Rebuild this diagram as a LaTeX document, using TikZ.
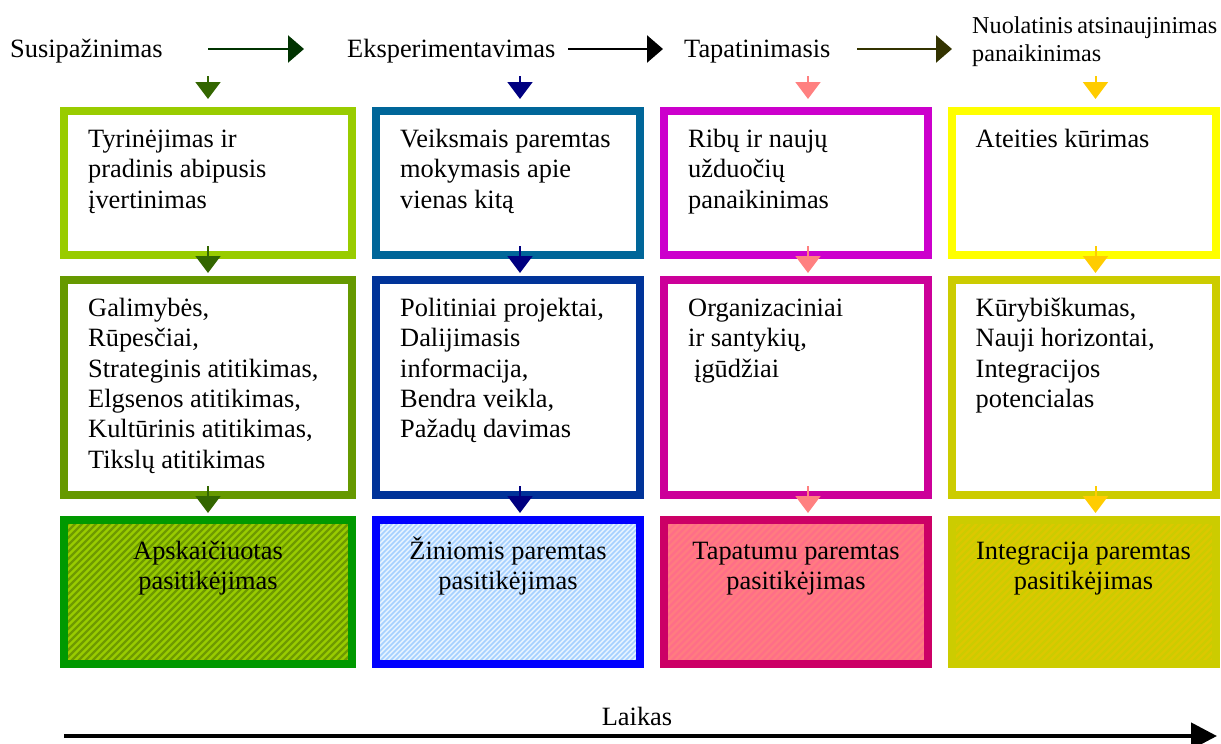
\documentclass[tikz,border=0pt]{standalone}
\usepackage{fontspec}
\setmainfont{Liberation Serif}
\usetikzlibrary{arrows.meta,calc}

% phase arrows
\definecolor{hA}{HTML}{003300}
\definecolor{hB}{HTML}{000000}
\definecolor{hC}{HTML}{333300}
% small down arrows
\definecolor{aA}{HTML}{336600}
\definecolor{aB}{HTML}{000080}
\definecolor{aC}{HTML}{FF8080}
\definecolor{aD}{HTML}{FFCC00}
% first row borders
\definecolor{oA}{HTML}{99CC00}
\definecolor{oB}{HTML}{006699}
\definecolor{oC}{HTML}{CC00CC}
\definecolor{oD}{HTML}{FFFF00}
% second row borders
\definecolor{mA}{HTML}{669900}
\definecolor{mB}{HTML}{003399}
\definecolor{mC}{HTML}{CC0099}
\definecolor{mD}{HTML}{CCCC00}
% third row borders, fills and stripes
\definecolor{uA}{HTML}{009900}
\definecolor{uB}{HTML}{0000FF}
\definecolor{uC}{HTML}{CC0066}
\definecolor{uD}{HTML}{CCCC00}
\definecolor{fA}{HTML}{99CC00}
\definecolor{sA}{HTML}{6E9A00}
\definecolor{fB}{HTML}{E4F2FF}
\definecolor{sB}{HTML}{A6D0FF}
\definecolor{fC}{HTML}{FF7C80}
\definecolor{sC}{HTML}{FF6E88}
\definecolor{fD}{HTML}{CCCC00}
\definecolor{sD}{HTML}{DCC800}

\newcommand{\tstrut}{\rule{0pt}{24pt}}

\begin{document}
\begin{tikzpicture}[x=1pt,y=-1pt,
  box/.style={draw=#1, line width=8pt, outer sep=4pt, inner sep=0pt},
  wideb/.style={minimum width=288pt},
  narrowb/.style={minimum width=264pt},
  shortb/.style={minimum height=144pt},
  tallb/.style={minimum height=215pt},
  % diagonal hatching drawn inside the node: base colour, stripe colour, period, stripe width
  striped/.style n args={4}{fill=#1, path picture={
      \foreach \k in {0,...,130}{
        \draw[#2, line width=#4]
          ($(path picture bounding box.south west)+(\k*#3-170,6)$) -- ++(190,-190);
      }}},
  txt/.style={anchor=north west, inner sep=0pt, align=left, font=\fontsize{26.4}{30.4}\selectfont},
  ctxt/.style={anchor=north, inner sep=0pt, align=center, font=\fontsize{26.4}{30.4}\selectfont},
  lab/.style={anchor=base west, inner sep=0pt, font=\fontsize{26.4}{30.4}\selectfont},
  harr/.style={draw=#1, line width=2.5pt, -{Triangle[length=16pt,width=27pt]}},
  darr/.style={draw=#1, line width=2pt, -{Triangle[length=17pt,width=25pt]}},
  axis/.style={draw=black, line width=4.5pt, -{Triangle[length=26pt,width=26pt]}}
]
\useasboundingbox (0,0) rectangle (1221,744);

% phase labels along the top
\node[lab] (l1) at (10,57) {Susipažinimas};
\node[lab] (l2) at (347,57) {Eksperimentavimas};
\node[lab] (l3) at (684,57) {Tapatinimasis};
\node[anchor=north west, inner sep=0pt, align=left, font=\fontsize{24.2}{28}\selectfont] (l4) at (972,9)
  {\tstrut\makebox[245pt][s]{Nuolatinis atsinaujinimas}\\panaikinimas};

\coordinate (h1a) at (208,49);  \coordinate (h1b) at (304,49);
\coordinate (h2a) at (568,49);  \coordinate (h2b) at (663,49);
\coordinate (h3a) at (857,49);  \coordinate (h3b) at (952,49);
\draw[harr=hA] (h1a) -- (h1b);
\draw[harr=hB] (h2a) -- (h2b);
\draw[harr=hC] (h3a) -- (h3b);

% first row
\node[box=oA, wideb, shortb]   (r1c1) at (208,183) {};
\node[box=oB, narrowb, shortb] (r1c2) at (508,183) {};
\node[box=oC, narrowb, shortb] (r1c3) at (796,183) {};
\node[box=oD, narrowb, shortb] (r1c4) at (1083.5,183) {};

% second row
\node[box=mA, wideb, tallb]   (r2c1) at (208,387.5) {};
\node[box=mB, narrowb, tallb] (r2c2) at (508,387.5) {};
\node[box=mC, narrowb, tallb] (r2c3) at (796,387.5) {};
\node[box=mD, narrowb, tallb] (r2c4) at (1083.5,387.5) {};

% third row
\node[box=uA, wideb, shortb, striped={fA}{sA}{7}{2.4pt}]     (r3c1) at (208,592) {};
\node[box=uB, narrowb, shortb, striped={fB}{sB}{5}{1.5pt}]   (r3c2) at (508,592) {};
\node[box=uC, narrowb, shortb, striped={fC}{sC}{7}{2.2pt}]   (r3c3) at (796,592) {};
\node[box=uD, narrowb, shortb, striped={fD}{sD}{7}{2.2pt}]   (r3c4) at (1083.5,592) {};

% texts
\node[txt] (t11) at ($(r1c1.north west)+(28,16)$) {\tstrut Tyrinėjimas ir\\pradinis abipusis\\įvertinimas};
\node[txt] (t12) at ($(r1c2.north west)+(28,16)$) {\tstrut Veiksmais paremtas\\mokymasis apie\\vienas kitą};
\node[txt] (t13) at ($(r1c3.north west)+(28,16)$) {\tstrut Ribų ir naujų\\užduočių\\panaikinimas};
\node[txt] (t14) at ($(r1c4.north west)+(28,16)$) {\tstrut Ateities kūrimas};

\node[txt] (t21) at ($(r2c1.north west)+(28,16)$) {\tstrut Galimybės,\\Rūpesčiai,\\Strateginis atitikimas,\\Elgsenos atitikimas,\\Kultūrinis atitikimas,\\Tikslų atitikimas};
\node[txt] (t22) at ($(r2c2.north west)+(28,16)$) {\tstrut Politiniai projektai,\\Dalijimasis\\informacija,\\Bendra veikla,\\Pažadų davimas};
\node[txt] (t23) at ($(r2c3.north west)+(28,16)$) {\tstrut Organizaciniai\\ir santykių,\\\hspace*{6pt}įgūdžiai};
\node[txt] (t24) at ($(r2c4.north west)+(28,16)$) {\tstrut Kūrybiškumas,\\Nauji horizontai,\\Integracijos\\potencialas};

\node[ctxt] (t31) at ($(r3c1.north)+(0,19)$) {\tstrut Apskaičiuotas\\pasitikėjimas};
\node[ctxt] (t32) at ($(r3c2.north)+(0,19)$) {\tstrut Žiniomis paremtas\\pasitikėjimas};
\node[ctxt] (t33) at ($(r3c3.north)+(0,19)$) {\tstrut Tapatumu paremtas\\pasitikėjimas};
\node[ctxt] (t34) at ($(r3c4.north)+(0,19)$) {\tstrut Integracija paremtas\\pasitikėjimas};

% small arrows: phase label to first row, then row to row
\foreach \c/\col in {1/aA,2/aB,3/aC,4/aD}{
  \draw[darr=\col] ($(r1c\c.north west)+(148,-31)$) -- ++(0,23);
  \draw[darr=\col] ($(r1c\c.south west)+(148,-13)$) -- ++(0,27);
  \draw[darr=\col] ($(r2c\c.south west)+(148,-13)$) -- ++(0,27);
}

% time axis
\node[anchor=base, inner sep=0pt, font=\fontsize{26.4}{30.4}\selectfont] (time) at (637,725) {Laikas};
\coordinate (ax0) at (64,736);
\coordinate (ax1) at (1217,736);
\draw[axis] (ax0) -- (ax1);
\end{tikzpicture}
\end{document}
